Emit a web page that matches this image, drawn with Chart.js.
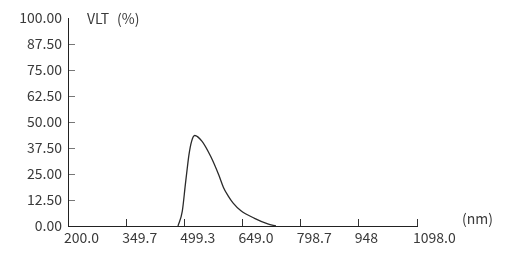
<!DOCTYPE html>
<html>
<head>
<meta charset="utf-8">
<script src="https://cdn.jsdelivr.net/npm/chart.js@4.4.1/dist/chart.umd.min.js"></script>
<style>
    html, body { margin: 0; padding: 0; background: #fff; }
    #wrap { width: 521px; height: 262px; }
</style>
</head>
<body>
<div id="wrap"><canvas id="vltChart" width="521" height="262"></canvas></div>
<script>
// Кривая пропускания видимого света (VLT)
const wavelengths = [483, 494, 502, 507, 511, 518, 526, 545, 567, 588, 600, 612, 625, 645, 680, 714, 735];
const vltValues = [0, 7, 20, 28, 34, 40.7, 43.5, 40.7, 33.5, 24.5, 18.5, 14.5, 11, 7.3, 3.7, 1, 0];

const xTickValues = [200, 349.7, 499.3, 649.0, 798.7, 948, 1098];
const xTickLabels = ['200.0', '349.7', '499.3', '649.0', '798.7', '948', '1098.0'];
const yAxisTitle = ['VLT', '(%)'];
const xAxisTitle = '(nm)';

const fontFamily = '"Noto Sans CJK SC", "Noto Sans", sans-serif';
const textColor = '#3a3a3a';

// Подписи осей
const axisTitlesPlugin = {
    id: 'axisTitles',
    afterDraw(chart) {
        const { ctx, chartArea } = chart;
        ctx.save();
        ctx.font = '14px ' + fontFamily;
        ctx.fillStyle = textColor;
        ctx.textBaseline = 'middle';
        ctx.textAlign = 'left';
        ctx.fillText(yAxisTitle[0], chartArea.left + 19, chartArea.top + 1);
        ctx.fillText(yAxisTitle[1], chartArea.left + 49, chartArea.top + 1);
        ctx.fillText(xAxisTitle, chartArea.right + 45, chartArea.bottom - 7);
        ctx.restore();
    }
};

const points = wavelengths.map((w, i) => ({ x: w, y: vltValues[i] }));

new Chart(document.getElementById('vltChart'), {
    type: 'scatter',
    data: {
        datasets: [
            {
                label: 'VLT',
                data: points,
                showLine: true,
                borderColor: '#2a2a2a',
                borderWidth: 1.3,
                pointRadius: 0,
                cubicInterpolationMode: 'monotone',
                fill: false,
            }
        ]
    },
    options: {
        responsive: false,
        animation: false,
        layout: {
            padding: { left: 0, right: 104, top: 18, bottom: 0 }
        },
        plugins: {
            legend: { display: false },
            tooltip: { enabled: false },
        },
        scales: {
            x: {
                type: 'linear',
                min: 200,
                max: 1098,
                afterBuildTicks(scale) {
                    scale.ticks = xTickValues.map(v => ({ value: v }));
                },
                afterFit(scale) {
                    scale.height = 36;
                    scale.paddingLeft = 0;
                    scale.paddingRight = 0;
                },
                border: { color: '#222', width: 1 },
                grid: {
                    drawOnChartArea: false,
                    drawTicks: true,
                    tickLength: -7,
                    color: (ctx) => (ctx.tick && ctx.tick.value === 200) ? 'rgba(0,0,0,0)' : '#333',
                },
                ticks: {
                    autoSkip: false,
                    maxRotation: 0,
                    align: 'start',
                    labelOffset: -4,
                    padding: 10,
                    color: textColor,
                    font: { family: fontFamily, size: 14 },
                    callback: (value, index) => xTickLabels[index],
                }
            },
            y: {
                min: 0,
                max: 100,
                afterFit(scale) {
                    scale.width = 68;
                    scale.paddingTop = 0;
                    scale.paddingBottom = 0;
                },
                border: { color: '#222', width: 1 },
                grid: {
                    drawOnChartArea: false,
                    drawTicks: true,
                    tickLength: -7,
                    color: (ctx) => (ctx.tick && (ctx.tick.value === 100 || ctx.tick.value === 0)) ? 'rgba(0,0,0,0)' : '#777',
                },
                ticks: {
                    stepSize: 12.5,
                    padding: 13,
                    color: textColor,
                    font: { family: fontFamily, size: 14 },
                    callback: (value) => value.toFixed(2),
                }
            }
        }
    },
    plugins: [axisTitlesPlugin],
});
</script>
</body>
</html>
